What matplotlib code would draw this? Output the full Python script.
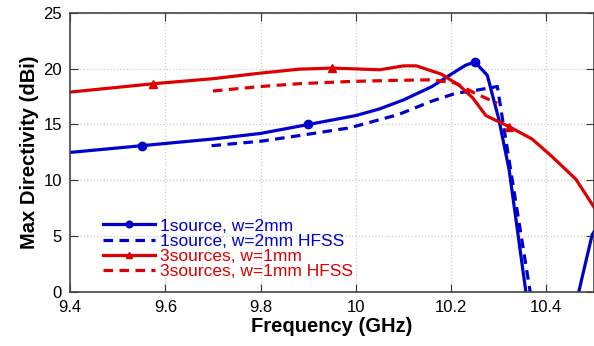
import numpy as np
import matplotlib.pyplot as plt

plt.rcParams['font.family'] = ['Liberation Sans', 'DejaVu Sans']

# 1source, w=2mm (simulated)
f_1s = [9.4, 9.55, 9.7, 9.8, 9.9, 10.0, 10.05, 10.1, 10.16, 10.2, 10.23, 10.25, 10.276, 10.30, 10.322, 10.357, 10.40, 10.44, 10.468, 10.475, 10.496, 10.5]
d_1s = [12.5, 13.1, 13.7, 14.2, 15.0, 15.8, 16.4, 17.2, 18.4, 19.5, 20.3, 20.6, 19.4, 15.5, 10.9, 0.0, -8.0, -8.0, 0.0, 1.3, 5.1, 5.4]
mk_1s = [1, 4, 11]

# 1source, w=2mm HFSS
f_1h = [9.697, 9.8, 9.88, 9.987, 10.09, 10.16, 10.21, 10.244, 10.297, 10.366, 10.38]
d_1h = [13.1, 13.5, 14.0, 14.7, 15.9, 17.1, 17.8, 18.0, 18.4, 0.0, -3.0]

# 3sources, w=1mm (simulated)
f_3s = [9.4, 9.575, 9.7, 9.8, 9.88, 9.95, 10.05, 10.1, 10.127, 10.18, 10.217, 10.245, 10.273, 10.322, 10.37, 10.41, 10.462, 10.5]
d_3s = [17.9, 18.65, 19.1, 19.6, 19.95, 20.05, 19.9, 20.25, 20.25, 19.5, 18.5, 17.4, 15.8, 14.8, 13.7, 12.2, 10.1, 7.6]
mk_3s = [1, 5, 13]

# 3sources, w=1mm HFSS
f_3h = [9.7, 9.8, 9.88, 9.987, 10.08, 10.16, 10.21, 10.25, 10.297]
d_3h = [18.0, 18.4, 18.65, 18.85, 18.95, 19.0, 18.7, 17.8, 16.9]

blue = '#0000cc'
red = '#dd0000'

fig = plt.figure(figsize=(5.94, 3.46), dpi=100)
ax = fig.add_axes([0.118, 0.156, 0.882, 0.807])

ax.plot(f_1s, d_1s, '-', color=blue, lw=2.3, marker='o', ms=6, markevery=mk_1s,
        label='1source, w=2mm')
ax.plot(f_1h, d_1h, '--', color=blue, lw=2.3, dashes=(3, 2), label='1source, w=2mm HFSS')
ax.plot(f_3s, d_3s, '-', color=red, lw=2.3, marker='^', ms=6, markevery=mk_3s,
        label='3sources, w=1mm')
ax.plot(f_3h, d_3h, '--', color=red, lw=2.3, dashes=(3, 2), label='3sources, w=1mm HFSS')

ax.set_xlim(9.4, 10.5)
ax.set_ylim(0, 25)
ax.set_xticks([9.4, 9.6, 9.8, 10.0, 10.2, 10.4])
ax.set_xticklabels(['9.4', '9.6', '9.8', '10', '10.2', '10.4'])
ax.set_yticks([0, 5, 10, 15, 20, 25])
ax.grid(True, color='#cccccc', linestyle=':', lw=0.9)
ax.tick_params(direction='in', top=True, right=True, length=6, labelsize=12,
               color='#333333', pad=6)
for s in ax.spines.values():
    s.set_color('#444444')
    s.set_linewidth(1.2)

ax.set_xlabel('Frequency (GHz)', fontsize=14.5, fontweight='bold', labelpad=1)
ax.set_ylabel('Max Directivity (dBi)', fontsize=14.5, fontweight='bold', labelpad=3)

leg = ax.legend(loc='lower left', bbox_to_anchor=(0.04, 0.003), frameon=False,
                fontsize=12.5, handlelength=3.0, handletextpad=0.3, labelspacing=0.0,
                borderpad=0.2, markerscale=0.8)
for t, c in zip(leg.get_texts(), [blue, blue, red, red]):
    t.set_color(c)

fig.savefig('out.png', dpi=100)
